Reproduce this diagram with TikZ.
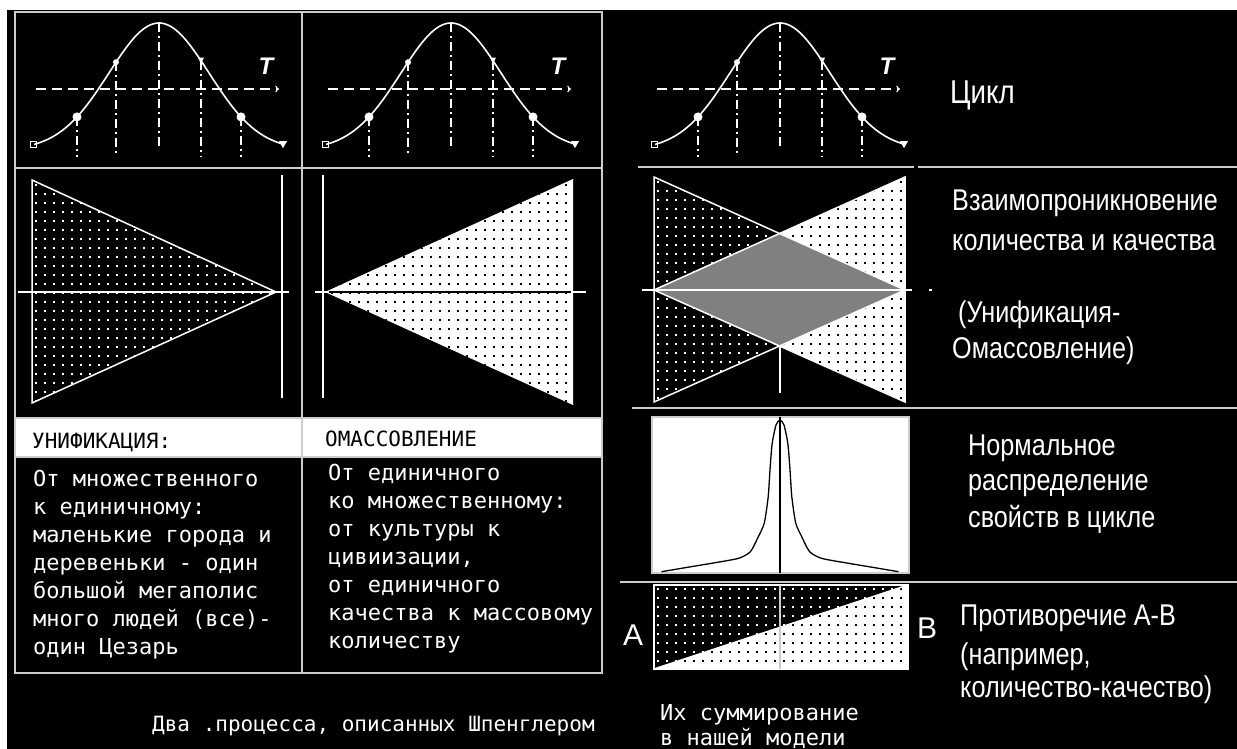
\documentclass[tikz,border=0pt]{standalone}
\usepackage{fontspec}
\setmainfont{Liberation Sans}
\newfontfamily\narrowfont[FakeStretch=0.84]{Liberation Sans}
\newfontfamily\pixfont{DejaVu Sans Mono}
\definecolor{lgray}{gray}{0.8}
\definecolor{mgray}{gray}{0.5}

% grid of small square dots, start x/y, columns, rows, colour
\newcommand{\dotgrid}[5]{%
  \foreach \i in {0,...,#3} { \foreach \j in {0,...,#4} {
    \fill[#5] ({#1+9*\i},{#2+9*\j}) rectangle +(2.2,2.2); } }}

% one cycle curve with its axis, peak at x=#1
\newcommand{\bell}[1]{%
  \draw[haxis,->] (#1-123,89) -- (#1+120,89);
  \foreach \dx/\yb in {-82/157,-43/157,0/148,42/157,82/157}
    \draw[vdash] ({#1+\dx},{belly(\dx)}) -- ({#1+\dx},\yb);
  \draw[curve] plot[domain=-125:124,samples=80] ({#1+\x},{belly(\x)});
  \draw[white,line width=1] ({#1-129},{belly(-125)-3}) rectangle +(6,6);
  \fill[white] ({#1-82},{belly(-82)}) circle (4.5);
  \fill[white] ({#1-43},{belly(-43)}) circle (3);
  \fill[white] ({#1+42},{belly(42)}) ++(-3,-3) -- ++(6,0) -- ++(-3,6) -- cycle;
  \fill[white] ({#1+82},{belly(82)}) circle (4.5);
  \fill[white] ({#1+124},{belly(124)}) ++(-4,-3) -- ++(8,0) -- ++(-4,7) -- cycle;
  \node[tlabel] (t#1) at (#1+107,66) {T};
}

\begin{document}
\begin{tikzpicture}[x=1pt,y=-1pt,
  declare function={belly(\t)=150-127*exp(0-(\t/70.71)*(\t/70.71));},
  frame/.style={draw=lgray,line width=2.2},
  tri/.style={draw=white,line width=1.5},
  curve/.style={draw=white,line width=1.6},
  vdash/.style={draw=white,line width=1.4,dash pattern=on 9pt off 4pt on 2pt off 4pt},
  haxis/.style={draw=white,line width=1.4,dash pattern=on 10pt off 6pt},
  pixtext/.style={text=white,inner sep=0,anchor=base west,font=\pixfont\fontsize{22}{26}\selectfont},
  headtext/.style={text=black,inner sep=0,anchor=base west,font=\pixfont\fontsize{21}{25}\selectfont},
  sidetext/.style={text=white,inner sep=0,anchor=base west,font=\narrowfont\fontsize{30}{35}\selectfont},
  tlabel/.style={text=white,inner sep=0,font=\bfseries\itshape\fontsize{24}{28}\selectfont}]
\useasboundingbox (0,0) rectangle (1237,749);
\fill[white] (0,0) rectangle (1237,749);
\fill[black] (7,10) rectangle (1237,749);

% left part: the two processes
\fill[white] (15,418) rectangle (602,457);
\draw[frame] (15,12) rectangle (602,673);
\draw[frame] (302,12) -- (302,673);
\foreach \yy in {168,418,457} \draw[frame] (15,\yy) -- (602,\yy);

\bell{159}
\bell{451}
\bell{780}

% unification
\begin{scope}
  \clip (32,180) -- (32,403) -- (276,292) -- cycle;
  \dotgrid{35}{184}{27}{24}{white}
\end{scope}
\draw[tri] (32,180) -- (32,403) -- (276,292) -- cycle;
\draw[tri] (18,292) -- (289,292);
\draw[tri] (282,175) -- (282,398);

% massification
\fill[white] (325,292) -- (573,179) -- (573,405) -- cycle;
\begin{scope}
  \clip (325,292) -- (573,179) -- (573,405) -- cycle;
  \dotgrid{331}{184}{27}{24}{black}
\end{scope}
\draw[tri] (323,175) -- (323,398);
\draw[tri] (315,292) -- (586,292);
\draw[black,line width=1.4] (329,292) -- (571,292);

% right part: both together
\begin{scope}
  \clip (654,177) -- (654,402) -- (905,290) -- cycle;
  \dotgrid{657}{181}{28}{24}{white}
\end{scope}
\fill[white] (905,177) -- (905,402) -- (654,290) -- cycle;
\begin{scope}
  \clip (905,177) -- (905,402) -- (654,290) -- cycle;
  \dotgrid{657}{181}{28}{24}{black}
\end{scope}
\fill[mgray] (654,290) -- (779.5,233.5) -- (905,290) -- (779.5,346.5) -- cycle;
\draw[tri] (654,177) -- (654,402) -- (905,290) -- cycle;
\draw[tri] (905,177) -- (905,402) -- (654,290) -- cycle;
\draw[tri] (642,290) -- (912,290);
\fill[white] (929,289) rectangle +(3,2);
\draw[tri] (780,347) -- (780,393);

\draw[frame] (638,167) -- (914,167);
\draw[frame] (918,167) -- (1237,167);
\draw[frame] (632,408) -- (1237,408);
\draw[frame] (620,582) -- (1237,582);

% normal distribution
\draw[lgray,fill=white,line width=1.2] (652,417) rectangle (909,573);
\draw[black,line width=1.3] (780,417) -- (780,573);
\draw[black,line width=1.3] plot[smooth,tension=0.4] coordinates {(661.5,571.7) (697,565.7) (715,562.7) (738.6,558.3) (750.4,551.7) (758.3,536.7) (764.3,523) (768.2,496.7) (770.2,466.7) (772.2,443.3) (776,425) (780,420) (784,425) (787.8,443.3) (789.8,466.7) (791.8,496.7) (795.7,523) (801.7,536.7) (809.6,551.7) (821.4,558.3) (845,562.7) (863,565.7) (898.5,571.7)};

% contradiction A-B
\begin{scope}
  \clip (654,585) -- (908,585) -- (654,669) -- cycle;
  \dotgrid{657}{588}{28}{9}{white}
\end{scope}
\fill[white] (908,585) -- (908,669) -- (654,669) -- cycle;
\begin{scope}
  \clip (908,585) -- (908,669) -- (654,669) -- cycle;
  \dotgrid{657}{588}{28}{9}{black}
\end{scope}
\draw[tri] (654,585) rectangle (908,669);
\draw[tri] (654,669) -- (908,585);
\draw[lgray,line width=1.3] (780,585) -- (780,669);
\node[text=white,inner sep=0,anchor=base,font=\fontsize{30}{34}\selectfont] (ptA) at (633,645) {А};
\node[text=white,inner sep=0,anchor=base,font=\fontsize{30}{34}\selectfont] (ptB) at (927,638) {В};

% texts
\node[headtext] (unihead) at (32,448) {УНИФИКАЦИЯ:};
\node[headtext] (omahead) at (325,446) {ОМАССОВЛЕНИЕ};
\foreach \s [count=\k] in {От множественного, к единичному:, маленькие города и, деревеньки - один, большой мегаполис, много людей (все)-, один Цезарь}
  \node[pixtext] (uni\k) at (33,{458+28*\k}) {\s};
\foreach \s [count=\k] in {От единичного, ко множественному:, от культуры к, {цивиизации,}, от единичного, качества к массовому, количеству}
  \node[pixtext] (oma\k) at (328,{452+28*\k}) {\s};
\node[pixtext,font=\pixfont\fontsize{21}{25}\selectfont] (caption) at (152,731) {Два .процесса, описанных Шпенглером};
\node[pixtext] (sum1) at (660,720) {Их суммирование};
\node[pixtext] (sum2) at (660,745) {в нашей модели};

\node[sidetext,font=\narrowfont\fontsize{33}{38}\selectfont] (cycle) at (950,104) {Цикл};
\node[sidetext] (inter1) at (952,210) {Взаимопроникновение};
\node[sidetext] (inter2) at (952,250) {количества и качества};
\node[sidetext] (inter3) at (958,322) {(Унификация-};
\node[sidetext] (inter4) at (952,358) {Омассовление)};
\node[sidetext] (norm1) at (968,455) {Нормальное};
\node[sidetext] (norm2) at (968,490) {распределение};
\node[sidetext] (norm3) at (968,527) {свойств в цикле};
\node[sidetext] (contr1) at (960,625) {Противоречие А-В};
\node[sidetext] (contr2) at (960,664) {(например,};
\node[sidetext] (contr3) at (960,697) {количество-качество)};
\end{tikzpicture}
\end{document}
